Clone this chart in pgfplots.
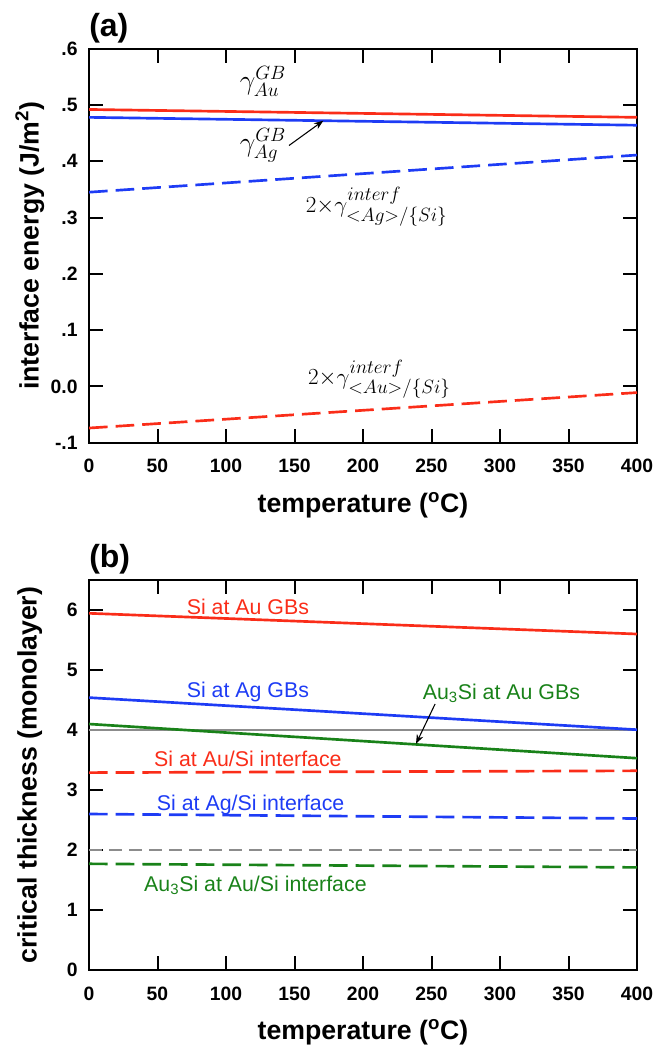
\documentclass[border=0pt]{standalone}
\usepackage{fontspec}
\setmainfont{Liberation Sans}
\usepackage{pgfplots}
\pgfplotsset{compat=1.18}
\usetikzlibrary{arrows.meta}

\definecolor{cred}{RGB}{250,45,25}
\definecolor{cblue}{RGB}{30,60,245}
\definecolor{cgreen}{RGB}{25,130,25}
\definecolor{cgray}{RGB}{140,140,140}

\pgfplotsset{
  panel/.style={
    scale only axis, width=411pt,
    xmin=0, xmax=400, xtick={0,50,...,400},
    tick align=inside, major tick length=10.5pt,
    axis line style={line width=1.5pt},
    every tick/.style={black, line width=1.5pt},
    ticklabel style={font=\fontsize{14.5}{17}\selectfont\bfseries},
    /pgf/number format/assume math mode=true,
    xticklabel style={yshift=-9pt},
    yticklabel style={xshift=-5pt},
    xlabel={temperature (\textsuperscript{o}C)},
    every axis x label/.style={at={(axis description cs:0.5,-0.16)}, anchor=center,
      font=\fontsize{20}{24}\selectfont\bfseries},
    every axis y label/.style={at={(axis description cs:-0.108,0.5)}, anchor=center, rotate=90,
      font=\fontsize{20}{24}\selectfont\bfseries},
  },
  solid line/.style={line width=2pt},
  dash line/.style={line width=2pt, dash pattern=on 14pt off 6pt},
}
\tikzset{
  lab/.style={font=\fontsize{16}{19}\selectfont, inner sep=0pt},
  glab/.style={font=\fontsize{20}{24}\selectfont, inner sep=0pt},
  ilab/.style={font=\fontsize{19}{23}\selectfont, inner sep=0pt},
  plab/.style={font=\fontsize{24}{28}\selectfont\bfseries, anchor=west, inner sep=0pt},
}

\begin{document}
\begin{tikzpicture}
\useasboundingbox (0,0) rectangle (492.75pt,-786.75pt);

% (a) interface energy
\begin{axis}[panel,
    at={(66.75pt,-332pt)}, anchor=south west, height=295.5pt,
    ymin=-0.1, ymax=0.6,
    ytick={-0.1,0,0.1,0.2,0.3,0.4,0.5,0.6},
    yticklabels={-.1,0.0,.1,.2,.3,.4,.5,.6},
    ylabel={interface energy (J/m\textsuperscript{2})},
  ]
  \addplot[solid line, cred] coordinates {(0,0.492) (400,0.478)};
  \addplot[solid line, cblue] coordinates {(0,0.478) (400,0.464)};
  \addplot[dash line, cblue] coordinates {(0,0.345) (400,0.411)};
  \addplot[dash line, cred] coordinates {(0,-0.074) (400,-0.011)};

  \node[glab] at (axis cs:127,0.542) {$\gamma^{GB}_{Au}$};
  \node[glab] at (axis cs:127,0.428) {$\gamma^{GB}_{Ag}$};
  \draw[-{Stealth[length=7pt]}, line width=0.8pt] (axis cs:146,0.428) -- (axis cs:171,0.472);
  \node[ilab] at (axis cs:210,0.319) {$2{\times}\gamma^{interf}_{{<}Ag{>}/\{Si\}}$};
  \node[ilab] at (axis cs:212,0.013) {$2{\times}\gamma^{interf}_{{<}Au{>}/\{Si\}}$};
\end{axis}
\node[plab] at (66.75pt,-20.9pt) {(a)};

% (b) critical thickness
\begin{axis}[panel,
    at={(66.75pt,-727.5pt)}, anchor=south west, height=292.5pt,
    ymin=0, ymax=6.5, ytick={0,1,2,3,4,5,6},
    ylabel={critical thickness (monolayer)},
  ]
  \addplot[line width=1pt, cgray] coordinates {(0,4) (400,4)};
  \addplot[line width=1pt, cgray, dash pattern=on 10pt off 5pt] coordinates {(0,2) (400,2)};
  \addplot[solid line, cred] coordinates {(0,5.945) (400,5.60)};
  \addplot[solid line, cblue] coordinates {(0,4.54) (400,4.005)};
  \addplot[solid line, cgreen] coordinates {(0,4.10) (400,3.53)};
  \addplot[dash line, cred] coordinates {(0,3.29) (400,3.32)};
  \addplot[dash line, cblue] coordinates {(0,2.60) (400,2.525)};
  \addplot[dash line, cgreen] coordinates {(0,1.77) (400,1.71)};

  \node[lab, text=cred] at (axis cs:116,6.055) {Si at Au GBs};
  \node[lab, text=cblue] at (axis cs:116,4.626) {Si at Ag GBs};
  \node[lab, text=cgreen] at (axis cs:301,4.61) {Au\textsubscript{3}Si at Au GBs};
  \draw[-{Stealth[length=7pt]}, line width=0.8pt] (axis cs:252.6,4.433) -- (axis cs:238.7,3.77);
  \node[lab, text=cred] at (axis cs:116,3.52) {Si at Au/Si interface};
  \node[lab, text=cblue] at (axis cs:118,2.754) {Si at Ag/Si interface};
  \node[lab, text=cgreen] at (axis cs:121.5,1.415) {Au\textsubscript{3}Si at Au/Si interface};
\end{axis}
\node[plab] at (66.75pt,-419.25pt) {(b)};
\end{tikzpicture}
\end{document}
